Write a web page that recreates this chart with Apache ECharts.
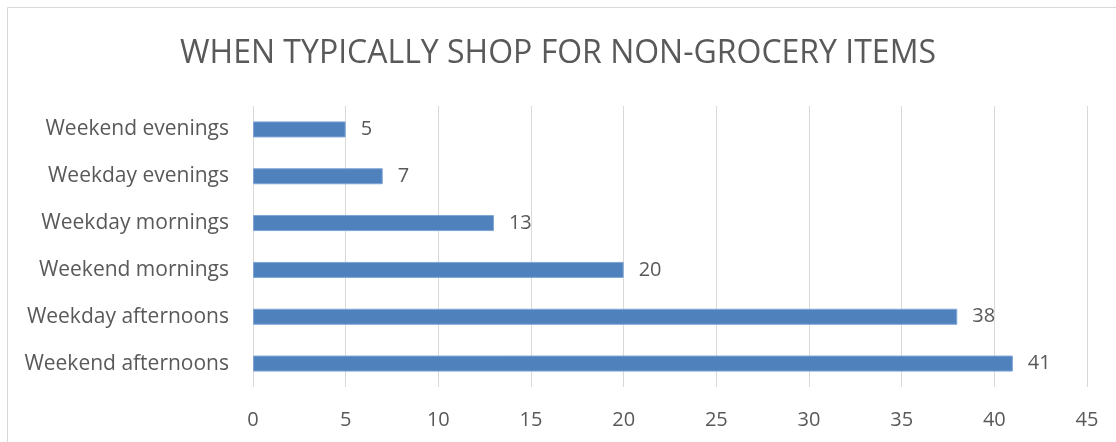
<!DOCTYPE html>
<html>
<head>
<meta charset="utf-8">
<script src="https://cdn.jsdelivr.net/npm/echarts@6/dist/echarts.min.js"></script>
<style>
  html, body { margin: 0; padding: 0; background: #fff; }
  #chart { width: 1116px; height: 442px; }
</style>
</head>
<body>
<div id="chart"></div>
<script>
// Shopping times for non-grocery items, listed bottom-to-top as drawn
const categories = [
  'Weekend afternoons',
  'Weekday afternoons',
  'Weekend mornings',
  'Weekday mornings',
  'Weekday evenings',
  'Weekend evenings'
];
const counts = [41, 38, 20, 13, 7, 5];
const xTicks = [0, 5, 10, 15, 20, 25, 30, 35, 40, 45];

const FONT = '"Open Sans", "Liberation Sans", sans-serif';
const TEXT = '#595959';

const chart = echarts.init(document.getElementById('chart'), null, { renderer: 'canvas' });
chart.setOption({
  animation: false,
  backgroundColor: '#fff',
  title: {
    text: 'WHEN TYPICALLY SHOP FOR NON-GROCERY ITEMS',
    left: 'center',
    top: 33,
    textStyle: { fontFamily: FONT, fontSize: 32, fontWeight: 'normal', color: TEXT }
  },
  graphic: [{
    type: 'rect',
    shape: { x: 7.5, y: 7.5, width: 1300, height: 600 },
    style: { fill: 'none', stroke: '#d9d9d9', lineWidth: 1 },
    silent: true
  }],
  grid: { left: 253, right: 29, top: 106, bottom: 55, containLabel: false },
  xAxis: {
    type: 'value',
    min: xTicks[0],
    max: xTicks[xTicks.length - 1],
    interval: xTicks[1] - xTicks[0],
    axisLine: { show: false },
    axisTick: { show: false },
    splitLine: { show: true, lineStyle: { color: '#d9d9d9', width: 1 } },
    axisLabel: { fontFamily: FONT, fontSize: 20, color: TEXT, margin: 23 }
  },
  yAxis: {
    type: 'category',
    data: categories,
    axisLine: { show: false },
    axisTick: { show: false },
    axisLabel: { fontFamily: FONT, fontSize: 21, color: TEXT, margin: 24, padding: [3, 0, 0, 0] }
  },
  series: [{
    type: 'bar',
    data: counts,
    barWidth: 16,
    itemStyle: { color: '#4f81bd', borderColor: '#7ea5d6', borderWidth: 1 },
    label: {
      show: true,
      position: 'right',
      distance: 15,
      padding: [3, 0, 0, 0],
      fontFamily: FONT,
      fontSize: 20,
      color: TEXT
    }
  }]
});
</script>
</body>
</html>
